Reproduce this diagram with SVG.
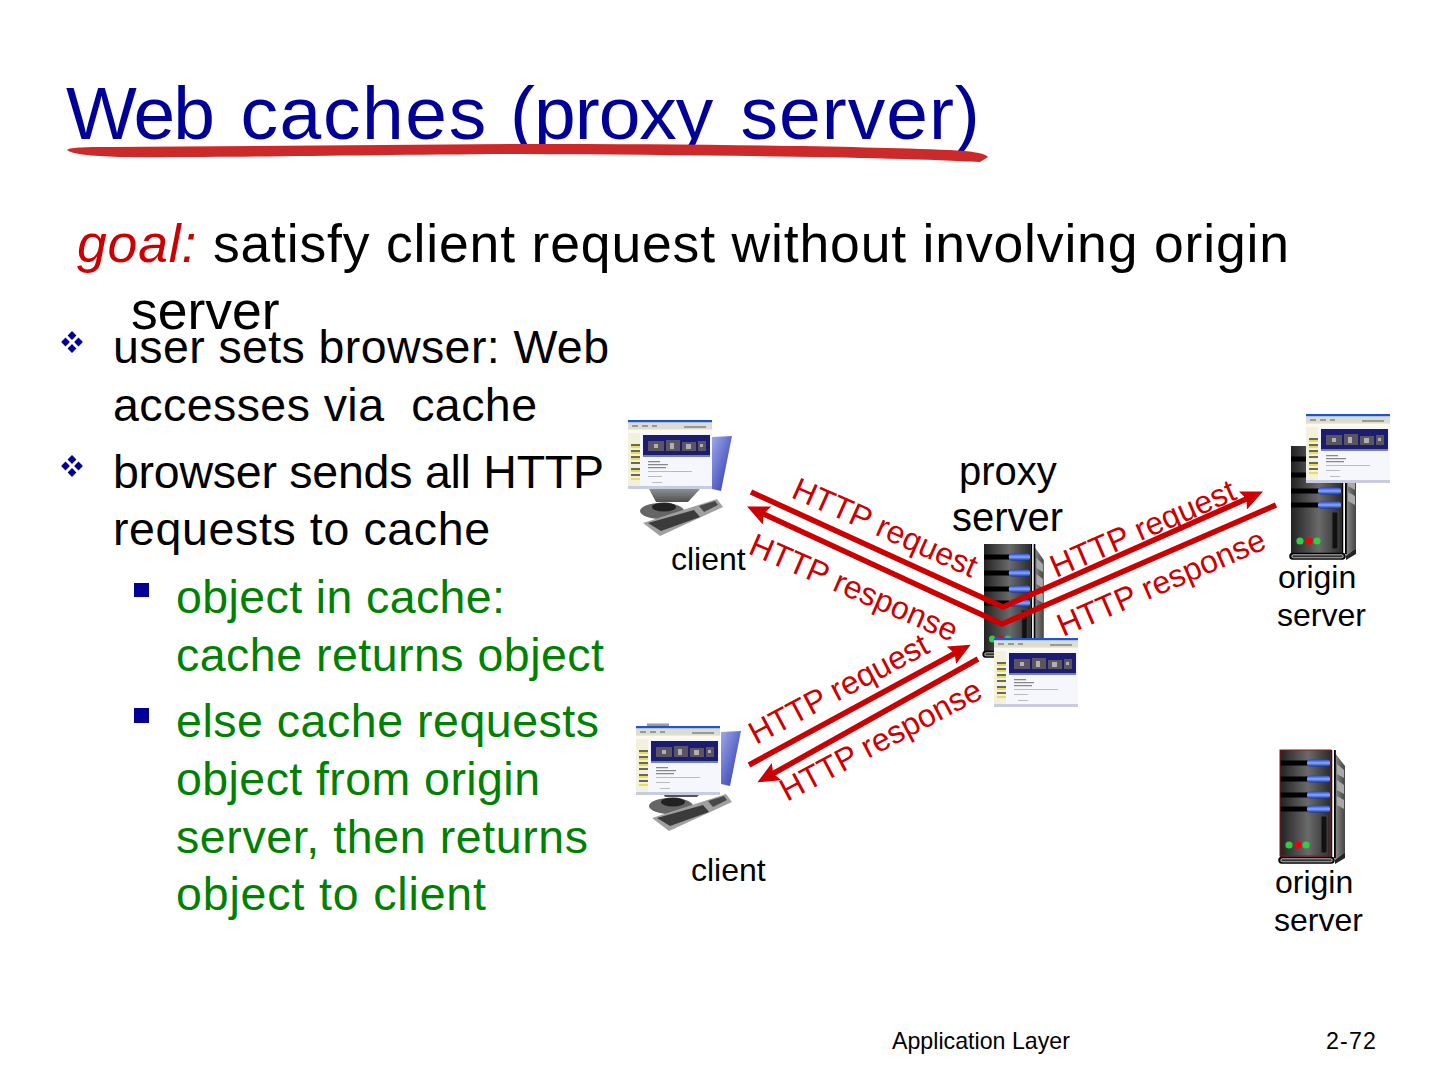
<svg xmlns="http://www.w3.org/2000/svg" width="1440" height="1080" viewBox="0 0 1440 1080">
<style>
text{font-family:"Liberation Sans",Arial,sans-serif;white-space:pre}
.title{font-size:75px;fill:#000099}
.goal{font-size:53.5px;fill:#000}
.b{font-size:46.5px;fill:#000}
.g{font-size:46.5px;fill:#008000}
.n{font-size:32px;fill:#000}
.n40{font-size:40px;fill:#000}
.r{font-size:32px;fill:#cc0000}
.f{font-size:23.2px;fill:#000}
.ln{fill:none;stroke:#cc0000;stroke-width:5.500}
</style>
<defs>
<marker id="ah" viewBox="0 0 4 3.6" refX="2" refY="1.8" markerWidth="4" markerHeight="3.6" orient="auto-start-reverse" markerUnits="strokeWidth"><path d="M0 0L4 1.8L0 3.6L.7 1.8Z" fill="#cc0000"/></marker>
<linearGradient id="body" x1="0" x2="1" y1="0" y2="0"><stop offset="0" stop-color="#222"/><stop offset=".55" stop-color="#6a6a6a"/><stop offset="1" stop-color="#2a2a2a"/></linearGradient>
<linearGradient id="side" x1="0" x2="1" y1="0" y2="0"><stop offset="0" stop-color="#8a8a8a"/><stop offset="1" stop-color="#444"/></linearGradient>
<linearGradient id="pill" x1="0" x2="0" y1="0" y2="1"><stop offset="0" stop-color="#2244cc"/><stop offset=".5" stop-color="#88aaff"/><stop offset="1" stop-color="#1133aa"/></linearGradient>
<linearGradient id="bluep" x1="0" x2="1" y1="0" y2="1"><stop offset="0" stop-color="#a0a8e8"/><stop offset="1" stop-color="#2230b0"/></linearGradient>
<linearGradient id="stand" x1="0" x2="0" y1="0" y2="1"><stop offset="0" stop-color="#8a9090"/><stop offset="1" stop-color="#505050"/></linearGradient>
<filter id="soft" x="-5%" y="-5%" width="110%" height="110%"><feGaussianBlur stdDeviation=".7"/></filter>
<g id="bar"><rect x="0" y="-2.5" width="28" height="5" fill="#000"/><rect x="27" y="-3.500" width="23" height="7" rx="3" fill="url(#pill)"/></g>
<g id="dia"><path d="M0-4.400L4.400 0L0 4.400L-4.400 0Z" fill="#000099"/></g>
<symbol id="srv" overflow="visible">
<path d="M55 3L65 16V102L55 110Z" fill="url(#side)"/>
<path d="M57 14L64 20V28L57 24ZM57 30L64 35V44L57 40ZM57 46L64 50V59L57 55Z" fill="#a8a8a8"/>
<rect x="0" y="0" width="51" height="110" fill="url(#body)"/>
<use href="#bar" y="13"/><use href="#bar" y="29"/><use href="#bar" y="45"/><use href="#bar" y="59"/>
<rect x="41" y="66" width="6" height="37" fill="#111" stroke="#444"/>
<circle cx="9" cy="95" r="3.600" fill="#33cc44"/><circle cx="18" cy="95" r="3.600" fill="#ee0011"/><circle cx="26" cy="95" r="3.600" fill="#33cc44"/>
<rect x="51" y="0" width="1.500" height="108" fill="#000"/><rect x="52.500" y="0" width="1.500" height="108" fill="#fff"/><rect x="54" y="0" width="1.800" height="108" fill="#000"/>
<path d="M55 110L65 102V108L55 114Z" fill="#222"/>
<rect x="-1" y="107.500" width="55" height="5.500" rx="2.700" fill="#333" stroke="#000" stroke-width="1.500"/><rect x="1" y="108.800" width="51" height="3" rx="1.500" fill="none" stroke="#eee" stroke-width=".7"/>
</symbol>
<symbol id="win" overflow="visible">
<g filter="url(#soft)">
<rect width="84" height="69" fill="#f6f7fc"/>
<rect width="84" height="2.500" fill="#1a55d0"/>
<rect y="2.500" width="84" height="7" fill="#dcdcd0"/>
<path d="M4 5h6v2H4zM14 5h6v2h-6zM24 5h5v2h-5zM56 6h22v2H56z" fill="#9a9a90"/>
<rect y="10" width="84" height="3" fill="#fafaf0"/>
<rect x="15" y="15" width="67" height="20" fill="#1c1c70"/>
<path d="M20 21h16v10H20zM38 20h14v11H38zM54 22h14v9H54zM70 21h8v10h-8z" fill="#5a5560"/>
<path d="M26 24h4v4h-4zM42 23h4v6h-4zM58 24h5v5h-5zM72 24h3v3h-3z" fill="#b0b0b0"/>
<rect x="15" y="35" width="67" height="2" fill="#7080b8"/>
<rect x="0" y="13" width="12" height="53" fill="#f2f2dc"/>
<path d="M3 24h9v2H3zM3 30h9v2H3zM3 36h9v2H3zM3 42h9v2H3zM3 48h9v2H3zM3 54h9v2H3z" fill="#6a6a50"/>
<path d="M3 26h9v2H3zM3 32h9v2H3zM3 38h9v2H3zM3 50h9v2H3zM3 58h9v2H3z" fill="#e8dc60"/>
<path d="M20 41h12v1.200H20zM20 44h20v1.200H20zM20 47h18v1.200H20z" fill="#888"/>
<path d="M20 51h44v1H20zM20 56h14v1H20zM24 62h10v1H24z" fill="#bbb"/>
<rect y="66" width="84" height="3" fill="#c8cce0"/>
</g>
</symbol>
<symbol id="pc" overflow="visible">
<g filter="url(#soft)">
<path d="M84 17L104 16L93 71L84 69Z" fill="url(#bluep)"/>
<path d="M21 69H72L60 82H28Z" fill="url(#stand)"/>
<ellipse cx="34" cy="91" rx="22" ry="8" fill="#666"/>
<ellipse cx="36" cy="87" rx="12" ry="4.500" fill="#222"/>
<path d="M15 103L89 79L95 87L32 116Z" fill="#a0a0a0"/>
<path d="M20 103L66 90L72 97L33 111Z" fill="#3a3a3a"/>
<path d="M71 86L87 81L90 85L76 92Z" fill="#4a4a4a"/>
</g>
</symbol>
</defs>

<g id="title">
<text class="title" y="139"><tspan x="66" style="letter-spacing:-2px">Web </tspan><tspan x="240.500" style="letter-spacing:1.600px">caches </tspan><tspan x="510" style="letter-spacing:-1px">(proxy </tspan><tspan x="740.500" style="letter-spacing:1px">server)</tspan></text>
<path d="M67 150C70 147 90 147 110 147L520 144C700 144 850 146 950 150C970 151 985 153 988 157L980 162C900 157 700 155 520 154C350 155 200 158 120 157C90 156 72 154 67 150Z" fill="#cc2a2a"/>
</g>

<g id="goal">
<text class="goal" x="77" y="262" textLength="1212"><tspan fill="#cc0000" font-style="italic">goal:</tspan> satisfy client request without involving origin</text>
<text class="goal" x="131" y="329">server</text>
</g>

<g id="bullets">
<use href="#dia" x="72" y="335.500"/><use href="#dia" x="72" y="348.500"/><use href="#dia" x="65.500" y="342"/><use href="#dia" x="78.500" y="342"/>
<use href="#dia" x="72" y="459.500"/><use href="#dia" x="72" y="472.500"/><use href="#dia" x="65.500" y="466"/><use href="#dia" x="78.500" y="466"/>
<rect x="134" y="583" width="15" height="14" fill="#000099"/>
<rect x="134" y="708" width="15" height="15" fill="#000099"/>
<text class="b" x="113" y="363" textLength="496">user sets browser: Web</text>
<text class="b" x="113" y="421" textLength="424">accesses via  cache</text>
<text class="b" x="113" y="488" textLength="491">browser sends all HTTP</text>
<text class="b" x="113" y="545" textLength="377">requests to cache</text>
<text class="g" x="176" y="613" textLength="329">object in cache:</text>
<text class="g" x="176" y="671" textLength="428">cache returns object</text>
<text class="g" x="176" y="737" textLength="423">else cache requests</text>
<text class="g" x="176" y="795" textLength="364">object from origin</text>
<text class="g" x="176" y="853" textLength="412">server, then returns</text>
<text class="g" x="176" y="910" textLength="310">object to client</text>
</g>

<g id="client1"><use href="#pc" x="628" y="420"/><use href="#win" x="628" y="420"/><text class="n" x="671" y="570">client</text></g>
<g id="client2"><rect x="647" y="723.500" width="22" height="4" fill="#999"/><use href="#pc" x="637" y="715"/><use href="#win" x="636" y="726"/><text class="n" x="691" y="881">client</text></g>
<g id="proxy"><use href="#srv" transform="translate(984 544) scale(.92 1)"/><use href="#win" x="994" y="638"/><text class="n40" x="959" y="485">proxy</text><text class="n40" x="952" y="531">server</text></g>
<g id="origin1"><use href="#srv" x="1291" y="446"/><use href="#win" x="1306" y="414"/><text class="n" x="1278" y="588">origin</text><text class="n" x="1277" y="626">server</text></g>
<g id="origin2"><use href="#srv" x="1280" y="750"/><rect x="1280" y="750" width="51" height="106" fill="none" stroke="#8a1a1a" stroke-width="1"/><text class="n" x="1275" y="893">origin</text><text class="n" x="1274" y="931">server</text></g>

<g id="connectors">
<polyline class="ln" points="751,492 1003,607 1253,496" marker-end="url(#ah)"/>
<polyline class="ln" points="757,511 1002,624 1276,505" marker-start="url(#ah)"/>
<line class="ln" x1="749" y1="765" x2="961" y2="650" marker-end="url(#ah)"/>
<line class="ln" x1="978" y1="659" x2="767" y2="777" marker-end="url(#ah)"/>
</g>

<g id="connector-labels">
<text class="r" transform="translate(790 497) rotate(24)">HTTP request</text>
<text class="r" transform="translate(747 553) rotate(23.500)">HTTP response</text>
<text class="r" transform="translate(1056 578) rotate(-23.500)">HTTP request</text>
<text class="r" transform="translate(1063 637) rotate(-23.500)">HTTP response</text>
<text class="r" transform="translate(756 745) rotate(-28)">HTTP request</text>
<text class="r" transform="translate(787 802) rotate(-28)">HTTP response</text>
</g>

<g id="footer">
<text class="f" x="892" y="1049">Application Layer</text>
<text class="f" x="1326" y="1049" textLength="50">2-72</text>
</g>
</svg>
